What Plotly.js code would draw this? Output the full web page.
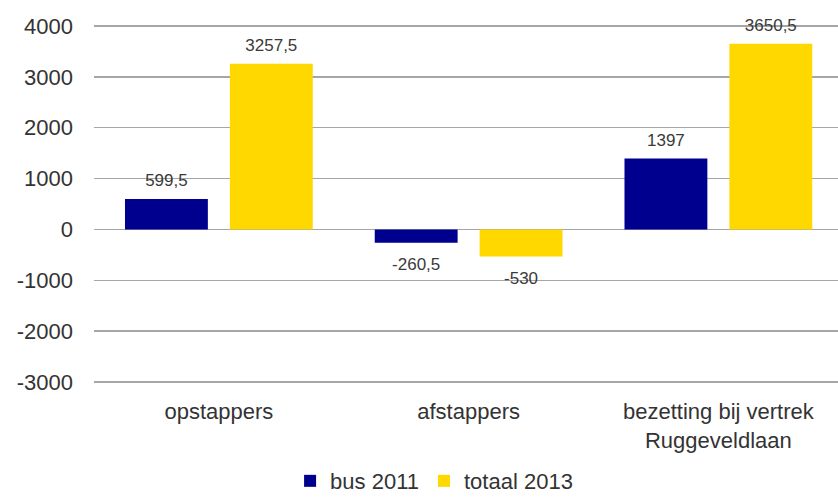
<!DOCTYPE html>
<html>
<head>
<meta charset="utf-8">
<script src="https://cdn.plot.ly/plotly-3.0.1.min.js"></script>
<style>html,body{margin:0;padding:0;background:#fff;}#chart{width:838px;height:499px;}</style>
</head>
<body>
<div id="chart"></div>
<script>
const categories = ["opstappers", "afstappers", "bezetting bij vertrek<br>Ruggeveldlaan"];
const seriesNames = ["bus 2011", "totaal 2013"];
const bus2011 = [599.5, -260.5, 1397];
const totaal2013 = [3257.5, -530, 3650.5];
const yTicks = [-3000, -2000, -1000, 0, 1000, 2000, 3000, 4000];

const colors = ["#00008F", "#FFD800"];
const fmt = v => String(v).replace(".", ",");
const seriesVals = [bus2011, totaal2013];

const traces = [];
seriesVals.forEach((vals, i) => {
  traces.push({
    type: "bar", name: seriesNames[i], x: categories, y: vals,
    marker: {color: colors[i]}, offsetgroup: "g" + i, alignmentgroup: "a",
    hoverinfo: "skip"
  });
});
seriesVals.forEach((vals, i) => {
  traces.push({
    type: "scatter", mode: "markers+text", x: categories, y: vals,
    text: vals.map(fmt),
    textposition: vals.map(v => v >= 0 ? "top center" : "bottom center"),
    textfont: {family: "Liberation Sans, Arial, sans-serif", size: 17, color: "#3a3a3a"},
    marker: {size: vals.map(v => v >= 0 ? 12 : 22), opacity: 0, color: colors[i]},
    offsetgroup: "g" + i, alignmentgroup: "a",
    showlegend: false, hoverinfo: "skip", cliponaxis: false
  });
});

const layout = {
  width: 838, height: 499,
  margin: {l: 94, r: 0, t: 25, b: 116},
  paper_bgcolor: "#ffffff", plot_bgcolor: "#ffffff",
  barmode: "group", scattermode: "group",
  bargap: 0.16, bargroupgap: 0.21,
  font: {family: "Liberation Sans, Arial, sans-serif", color: "#333333", size: 22},
  xaxis: {
    type: "category", range: [-0.5, 2.479], autorange: false,
    showgrid: false, zeroline: false, showline: false, ticks: "",
    ticklabelstandoff: 13,
    tickfont: {size: 22, color: "#333333"}
  },
  yaxis: {
    range: [-3020, 4020], autorange: false,
    tickvals: yTicks, ticktext: yTicks.map(String),
    showgrid: true, gridcolor: "#a6a6a6", gridwidth: 1.5,
    zeroline: true, zerolinecolor: "#a6a6a6", zerolinewidth: 1.5,
    showline: false, ticks: "", ticklabelstandoff: 20,
    tickfont: {size: 22, color: "#333333"}
  },
  showlegend: true,
  legend: {
    orientation: "h", xref: "container", yref: "container",
    x: 0.518, xanchor: "center", y: 0.036, yanchor: "middle",
    font: {size: 22, color: "#333333"}, itemwidth: 30, traceorder: "normal"
  }
};

Plotly.newPlot("chart", traces, layout, {displayModeBar: false, staticPlot: true});
</script>
</body>
</html>
